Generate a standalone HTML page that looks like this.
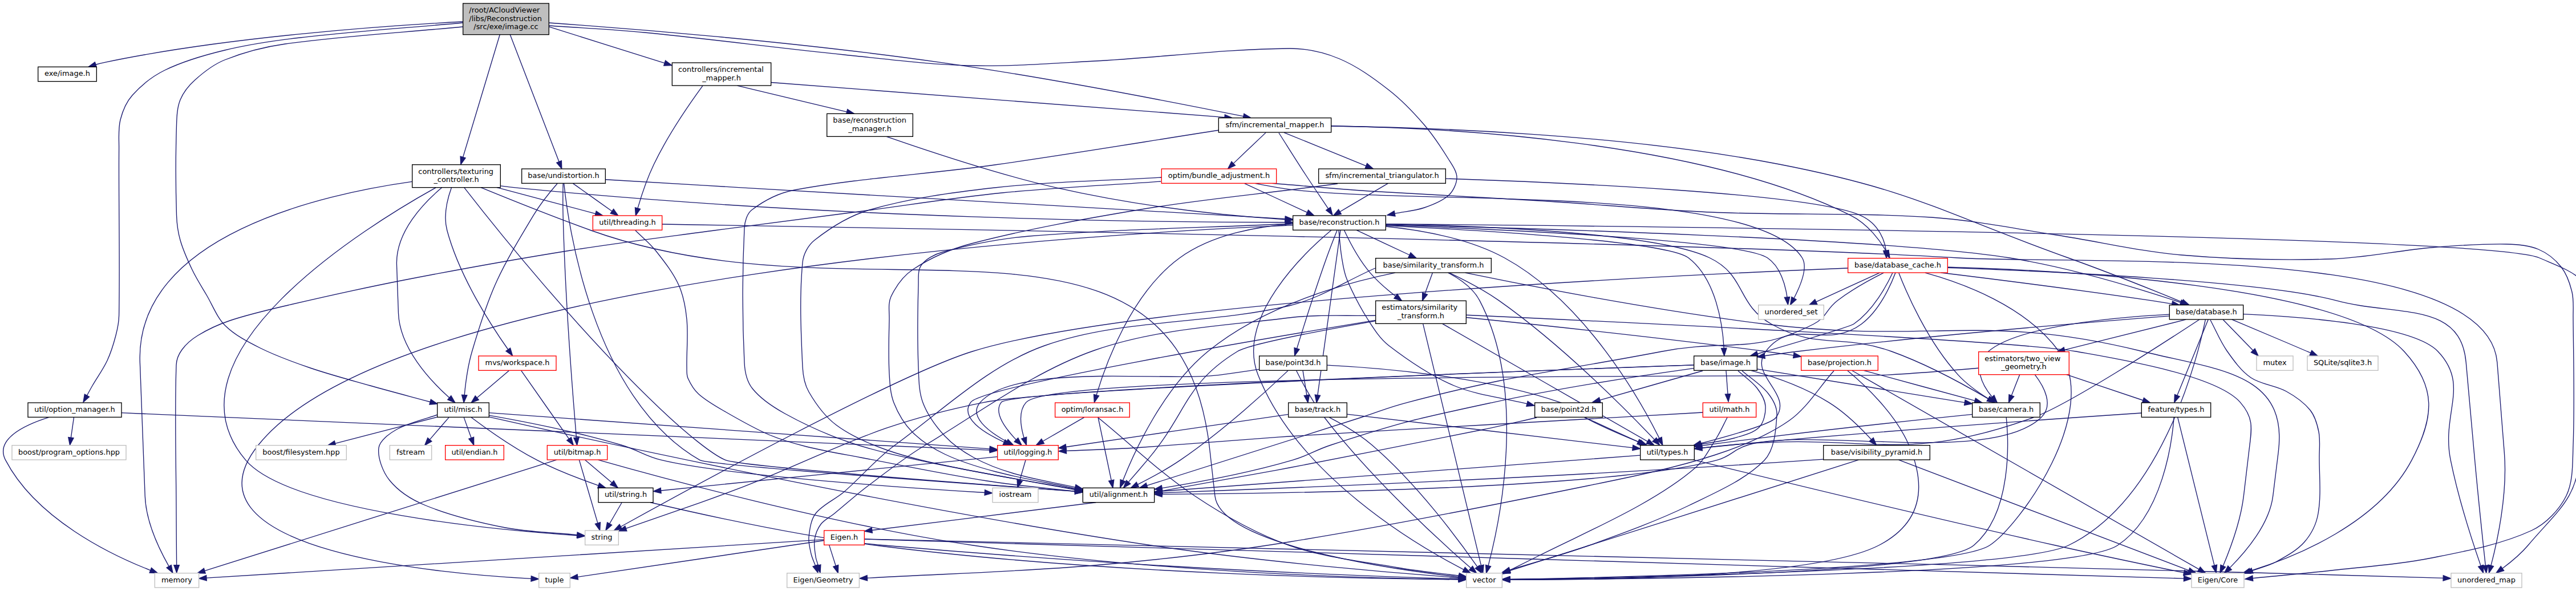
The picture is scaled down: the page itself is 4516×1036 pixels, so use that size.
<!DOCTYPE html>
<html><head><meta charset="utf-8"><title>image.cc include graph</title>
<style>html,body{margin:0;padding:0;background:#fff}svg{display:block}text{font-family:"DejaVu Sans","Liberation Sans",sans-serif;font-size:9.7px;fill:#000}.e{fill:none;stroke:#191970;stroke-width:1}.a{fill:#191970;stroke:#191970;stroke-width:1}</style></head><body>
<svg width="4516" height="1036" viewBox="0 0 3387 777">
<rect x="0" y="0" width="3387" height="777" fill="#fff"/>
<g><path class="e" d="M608.67,28.51C510.23,33.71 299.17,48.15 137.78,82 133.33,82.93 128.82,84.11 125.89,84.94"/>
<polygon class="a" points="124.84,81.6 116.35,87.94 126.94,88.28"/>
<path class="e" d="M721.5,33.75C763.5,36.75 805.6,38.62 847.5,42.75 935.1,51.37 1022.42,63.09 1110,72 1164.92,77.59 1219.92,84.87 1275,86.25 1329.67,87.62 1384.55,83.18 1439.25,80.25 1524.55,75.68 1610.07,64.54 1695,63.75 1717.32,63.54 1740.61,68.75 1761,77.25 1784.36,87 1806.06,102.78 1826.25,118.5 1843.31,131.78 1858.62,147.84 1872.75,164.25 1884.87,178.34 1895.21,194.2 1905,210 1909.46,217.2 1915.5,225.5 1915.5,233.25 1915.5,241 1910.89,251.02 1905,256.5 1896.64,264.27 1884.07,269.14 1872.75,273 1860.34,277.23 1846.79,278.19 1833.81,280.79"/>
<polygon class="a" points="1833.12,277.36 1824,282.75 1834.49,284.22"/>
<path class="e" d="M657.19,45.61C645.82,83.39 620.92,166.15 608.71,206.71"/>
<polygon class="a" points="605.36,205.71 605.83,216.29 612.06,207.72"/>
<path class="e" d="M608.25,35.25C530.5,42.75 452.17,47.02 375,57.75 347.92,61.52 320.63,68.73 295.5,78.75 281.13,84.48 268,94.68 256.5,105 248.5,112.18 241.02,121.47 237,131.25 232.9,141.22 232.48,153.16 232.12,164.25 230.86,203.66 230.86,243.34 232.12,282.75 232.48,293.84 233.96,305.13 237,315.75 240.83,329.13 246.7,342.13 252.75,354.75 258.2,366.13 265.06,376.86 271.5,387.75 279.56,401.36 285.29,417.41 296.25,428.25 308.79,440.66 325.86,449.48 342,457.5 363.11,467.98 385.62,476.1 408,483.75 433.87,492.6 460.42,499.54 486.75,507 512.95,514.42 539.32,521.26 565.6,528.38"/>
<polygon class="a" points="564.68,531.76 575.25,531 566.51,525"/>
<path class="e" d="M670.71,45.61C685.92,85.1 720.04,173.7 735.02,212.63"/>
<polygon class="a" points="731.76,213.88 738.61,221.96 738.29,211.37"/>
<path class="e" d="M721.8,35.14C761.75,47.71 833.75,70.33 873.87,82.94"/>
<polygon class="a" points="872.82,86.28 883.41,85.94 874.92,79.6"/>
<path class="e" d="M721.77,30.03C824.67,37.26 1040.23,54.29 1236.41,82 1373.38,101.35 1545.41,134.89 1634.96,152.96"/>
<polygon class="a" points="1634.26,156.39 1644.76,154.94 1635.65,149.53"/>
<path class="e" d="M608.25,30C537,36.5 465.53,41.32 394.5,49.5 361.28,53.32 327.93,58.2 295.5,66 268.68,72.45 241.29,80.28 216.75,92.25 200.79,100.03 185.71,112.18 174,125.25 166.21,133.93 161.11,146.14 158.25,157.5 155.26,169.39 156.54,182.49 156.45,195 155.94,268.24 157.7,341.6 156.45,414.75 156.3,423.6 154.48,432.46 152.25,441 149.33,452.21 145.88,463.52 141,474 135.63,485.52 127.91,495.95 121.5,507 119.02,511.28 116.72,515.66 114.33,519.99"/>
<polygon class="a" points="111.27,518.3 109.5,528.75 117.4,521.68"/>
<path class="e" d="M1822.13,296.01C1959.92,300.99 2288.74,315.25 2323.92,339 2341.15,350.63 2347.52,374.97 2349.77,390.69"/>
<polygon class="a" points="2346.29,391.07 2350.86,400.63 2353.25,390.31"/>
<path class="e" d="M1822.27,294.51C2104.59,297 3269.78,309.07 3338.73,339 3379.01,356.49 3409.86,364.4 3406.54,409.5 3406.54,409.5 3406.54,409.5 3392.82,596 3388.4,656.03 3364.15,669.54 3323.91,717 3314.28,728.36 3301.48,738.98 3290.2,747.35"/>
<polygon class="a" points="3288.16,744.51 3282.07,753.18 3292.24,750.2"/>
<path class="e" d="M1750.62,302.5C1718.17,329.62 1624.1,416.74 1654.14,493 1706.01,624.67 1861.89,716.41 1924.65,748.96"/>
<polygon class="a" points="1923.06,752.08 1933.56,753.5 1926.24,745.84"/>
<path class="e" d="M1699.81,296.19C1450.69,306.52 520.74,359.87 339.74,585 226.64,725.66 588.33,755.11 698.35,760.77"/>
<polygon class="a" points="698.19,764.26 708.34,761.24 698.52,757.27"/>
<path class="e" d="M1822.12,294.67C1936.26,296.72 2176.89,305.06 2247.91,339 2296.37,362.16 2282.5,399.63 2328.96,426 2389.85,460.57 2420.14,437.93 2487.02,462 2534.78,479.2 2586.02,507.68 2614.19,524.34"/>
<polygon class="a" points="2612.4,527.35 2622.78,529.47 2615.99,521.34"/>
<path class="e" d="M1822.44,297.73C1868.55,302.56 1931.76,313.62 1978.13,339 2085.81,397.93 2158.78,530.13 2181.74,576.28"/>
<polygon class="a" points="2178.59,577.82 2186.12,585.27 2184.88,574.75"/>
<path class="e" d="M1700.25,294C1584.5,299.5 1468.3,301.13 1353,310.5 1314.55,313.63 1275.86,321.55 1239,331.5 1228.61,334.3 1217.05,340.75 1211.25,348.75 1206.55,355.25 1207.75,366.18 1207.5,375 1206.5,410.68 1206.12,446.59 1207.5,482.25 1208.12,498.09 1208,515.04 1213.5,529.5 1219.5,545.29 1230.39,560.48 1242,573 1252.64,584.48 1266.41,593.95 1280.25,601.5 1296.66,610.45 1314.72,617.22 1332.75,622.5 1359.21,630.25 1386.74,634.55 1413.74,640.57"/>
<polygon class="a" points="1412.98,643.99 1423.5,642.75 1414.5,637.16"/>
<path class="e" d="M1822.13,295.4C1994.7,299.62 2482.93,313.52 2642.07,339 2723.84,352.09 2817.51,381.15 2867.2,397.7"/>
<polygon class="a" points="2866.09,401.02 2876.68,400.88 2868.31,394.38"/>
<path class="e" d="M1822.28,296.69C1940.24,302.37 2191.18,316.93 2220.03,339 2256.75,367.1 2264.94,427.53 2266.69,457.84"/>
<polygon class="a" points="2263.2,457.98 2267.09,467.83 2270.19,457.7"/>
<path class="e" d="M1760.25,303C1761.5,314.5 1762.12,326.11 1764,337.5 1765.62,347.36 1766.92,357.58 1770.75,366.75 1778.42,385.08 1787.85,403.16 1798.5,420 1806.35,432.41 1814.69,445.62 1826.25,454.5 1852.44,474.62 1881.28,494.19 1911.75,507 1941.8,519.64 1975.78,522.89 2007.79,530.84"/>
<polygon class="a" points="2006.95,534.24 2017.5,533.25 2008.64,527.44"/>
<path class="e" d="M1758.16,302.58C1754.52,311.6 1748.73,326.23 1744.19,339 1729.13,381.28 1713.38,431.45 1705.15,458.21"/>
<polygon class="a" points="1701.8,457.18 1702.22,467.77 1708.5,459.23"/>
<path class="e" d="M1762.46,302.68C1757.58,337.89 1739.22,470.44 1732.43,519.52"/>
<polygon class="a" points="1728.96,519.03 1731.05,529.42 1735.9,520"/>
<path class="e" d="M1783.5,302.56C1802.64,311.52 1832.89,325.69 1853.29,335.25"/>
<polygon class="a" points="1851.81,338.42 1862.35,339.48 1854.77,332.08"/>
<path class="e" d="M1767.36,302.66C1773.48,315.79 1786.3,341.08 1801.75,359 1811.61,370.44 1824.4,381.31 1835.07,389.44"/>
<polygon class="a" points="1832.99,392.25 1843.11,395.39 1837.16,386.62"/>
<path class="e" d="M1699.93,294.36C1654.85,297.45 1594.13,307.81 1551.19,339 1487.26,385.44 1453.54,479.38 1441.55,519.48"/>
<polygon class="a" points="1438.19,518.51 1438.79,529.09 1444.91,520.44"/>
<path class="e" d="M2637.93,548.88C2640.87,578.49 2646.02,674.35 2595.13,717 2550.03,754.79 2111.58,760.86 1985.13,761.82"/>
<polygon class="a" points="1985.11,758.32 1975.13,761.89 1985.15,765.32"/>
<path class="e" d="M2593.15,544.82C2518.72,552.33 2371.89,567.78 2244.25,585 2242.61,585.22 2240.95,585.45 2237.89,585.89"/>
<polygon class="a" points="2237.38,582.43 2227.99,587.33 2238.39,589.35"/>
<path class="e" d="M2226.74,604.52C2309.04,624.71 2523.06,676.82 2702.56,717 2760.75,730.03 2828.09,744.04 2871.46,752.94"/>
<polygon class="a" points="2870.76,756.36 2881.26,754.94 2872.16,749.51"/>
<path class="e" d="M2156.55,598.62C2040.94,607.3 1670.26,635.11 1528.15,645.77"/>
<polygon class="a" points="1527.89,642.28 1518.18,646.51 1528.41,649.26"/>
<path class="e" d="M1440.96,660.56C1364.69,670.03 1241.68,685.31 1146.53,697.13"/>
<polygon class="a" points="1146.1,693.65 1136.61,698.36 1146.97,700.6"/>
<path class="e" d="M1136.5,708.87C1344.77,715.08 2604.19,752.6 2871.4,760.57"/>
<polygon class="a" points="2871.3,764.06 2881.4,760.86 2871.51,757.07"/>
<path class="e" d="M1136.56,708.65C1308.67,712.51 2214.1,732.97 2965.51,753 3049.74,755.25 3148.11,758.15 3212.37,760.08"/>
<polygon class="a" points="3212.27,763.58 3222.37,760.39 3212.48,756.58"/>
<path class="e" d="M1136.8,714.44C1146.03,715.42 1155.06,716.32 1162.81,717 1511.78,747.63 1812.57,758.12 1917.72,761.08"/>
<polygon class="a" points="1917.63,764.58 1927.72,761.35 1917.82,757.58"/>
<path class="e" d="M1083.15,710.64C1022.01,719.68 821.35,749.36 759.58,758.51"/>
<polygon class="a" points="759.07,755.04 749.69,759.96 760.09,761.97"/>
<path class="e" d="M1090.19,716.56C1093,725.4 1097.44,739.31 1098.92,743.95"/>
<polygon class="a" points="1095.58,745.02 1101.96,753.48 1102.25,742.89"/>
<path class="e" d="M1083.36,709.36C965.88,716.68 409.79,751.29 271.48,759.89"/>
<polygon class="a" points="271.26,756.4 261.5,760.52 271.7,763.38"/>
<path class="e" d="M2906.25,420.75C2913.5,434.25 2919.25,448.8 2928,461.25 2937,474.05 2946.85,487.86 2959.5,496.5 2972.85,505.61 2991.58,506.6 3006,514.5 3017.58,520.85 3029.43,529.19 3037.5,539.25 3043.68,546.94 3046.8,557.89 3048.75,567.75 3050.8,578.14 3049.58,589.25 3049.5,600 3049.33,625 3052.18,650.88 3048,675 3045.68,688.38 3038.81,702.38 3030,712.5 3020.31,723.63 3005.76,731.45 2992.5,738.75 2982.89,744.04 2971.75,746.43 2961.38,750.28"/>
<polygon class="a" points="2960.16,746.99 2952,753.75 2962.59,753.56"/>
<path class="e" d="M2949.55,412.99C3026.72,416.38 3172.36,427.33 3205.42,462 3247.94,506.59 3209.51,542.82 3222.14,605 3232.64,656.73 3251.93,715.38 3261.82,743.89"/>
<polygon class="a" points="3258.52,745.05 3265.13,753.33 3265.13,742.74"/>
<path class="e" d="M2899.78,420.03C2891.08,462.98 2845.52,656.03 2719.66,717 2651.91,749.81 2125.27,759.54 1985.34,761.56"/>
<polygon class="a" points="1985.29,758.06 1975.34,761.7 1985.39,765.06"/>
<path class="e" d="M2852.26,413.37C2780.8,417.2 2652.81,428.64 2614.4,462 2592.15,481.31 2606.8,507.02 2619.33,522.02"/>
<polygon class="a" points="2616.73,524.35 2626.01,529.46 2621.94,519.68"/>
<path class="e" d="M2891.69,420.15C2849.59,447.88 2717.64,533.66 2673.07,549 2497.98,612.62 2453.65,567.86 2277.44,585 2264.73,586.24 2250.97,587.63 2237.73,589"/>
<polygon class="a" points="2237.36,585.52 2227.78,590.04 2238.09,592.48"/>
<path class="e" d="M2922.91,420.13C2933.86,431.43 2953.14,451.3 2962.31,460.75"/>
<polygon class="a" points="2959.8,463.18 2969.26,467.94 2964.83,458.32"/>
<path class="e" d="M2934.64,420.04C2958.43,430.05 2998.96,447.17 3033.56,462 3036.16,463.11 3038.84,464.28 3038.21,463.99"/>
<polygon class="a" points="3036.81,467.2 3047.38,467.97 3039.6,460.78"/>
<path class="e" d="M2852.49,415.37C2757.24,422.79 2545.93,440.2 2363.77,462 2350.13,463.63 2335.3,465.65 2320.24,467.82"/>
<polygon class="a" points="2319.73,464.35 2310.34,469.26 2320.74,471.28"/>
<path class="e" d="M2874.04,420.13C2834.21,430.1 2767.71,446.73 2714.51,460.05"/>
<polygon class="a" points="2713.66,456.65 2704.81,462.47 2715.36,463.44"/>
<path class="e" d="M2903.4,420.19C2895.06,440.6 2874.09,491.9 2862.6,519.98"/>
<polygon class="a" points="2859.36,518.66 2858.82,529.24 2865.84,521.31"/>
<path class="e" d="M2290.5,487.5C2302,497.5 2315.87,505.82 2325,517.5 2331.12,525.32 2336.83,536.27 2336.25,546 2335.08,565.52 2333.14,591.52 2319.75,605.25 2294.64,631.02 2255.24,647.76 2220.75,664.5 2178.49,685.01 2133.8,701.06 2089.5,717 2055.24,729.33 2019.87,738.53 1985.05,749.3"/>
<polygon class="a" points="1984.02,745.95 1975.5,752.25 1986.09,752.64"/>
<path class="e" d="M2310.36,485.21C2377.23,495.99 2508.64,517.18 2583.26,529.22"/>
<polygon class="a" points="2582.7,532.67 2593.13,530.81 2583.82,525.76"/>
<path class="e" d="M2285.25,487.5C2293.5,495 2303.31,501.35 2310,510 2315.31,516.85 2320.77,525.76 2321.25,534 2321.77,543.01 2319.13,555.5 2313,561.75 2305.38,569.5 2291.43,572.68 2280,576 2265.96,580.08 2251.06,581.3 2236.59,583.95"/>
<polygon class="a" points="2235.96,580.51 2226.75,585.75 2237.22,587.39"/>
<path class="e" d="M2226.9,484.23C2167.65,492.48 2057.17,508.94 1963.27,529 1868.09,549.33 1843.94,554.33 1750.17,585 1727.23,592.5 1722.36,598.24 1699.28,605 1641.53,621.92 1574.75,634.21 1527.84,641.68"/>
<polygon class="a" points="1527.3,638.22 1517.96,643.22 1528.38,645.14"/>
<path class="e" d="M2227.07,479.94C2052.6,486.04 1387.17,510.34 1293.81,529 1122.83,563.17 1086.39,602.8 920.22,661 887.27,672.54 849.57,685.62 823.02,694.81"/>
<polygon class="a" points="821.88,691.5 813.57,698.07 824.16,698.12"/>
<path class="e" d="M2269.5,487.5C2270.25,497.68 2271.01,507.85 2271.76,518.03"/>
<polygon class="a" points="2268.27,518.29 2272.5,528 2275.25,517.77"/>
<path class="e" d="M2226.95,479.92C2045.32,486.21 1329.16,512.05 1316.42,529 1306.42,542.3 1321.35,562.79 1336.14,578.25"/>
<polygon class="a" points="1333.68,580.74 1343.25,585.28 1338.6,575.76"/>
<path class="e" d="M2238.75,487.5C2193.71,500.34 2148.66,513.17 2103.62,526.01"/>
<polygon class="a" points="2102.66,522.64 2094,528.75 2104.58,529.38"/>
<path class="e" d="M2301.97,487.07C2330.52,494.57 2369.87,507.67 2404.48,529 2425.67,542.06 2445.24,561.21 2460.51,577.91"/>
<polygon class="a" points="2457.89,580.23 2467.14,585.39 2463.13,575.58"/>
<path class="e" d="M2271,549C2266.25,558 2262.2,567.43 2256.75,576 2248.2,589.43 2240.84,604.65 2229,615 2207.09,634.15 2181.2,650.06 2155.5,664.5 2112.7,688.56 2067.5,708.5 2023.5,730.5 2010.48,737.01 1997.46,743.52 1984.44,750.03"/>
<polygon class="a" points="1982.88,746.9 1975.5,754.5 1986.01,753.16"/>
<path class="e" d="M2238.75,542.25C2142.5,547.75 2046.25,553.17 1950,558.75 1865,563.67 1779.96,568.18 1695,573.75 1627.46,578.18 1560.04,584.36 1492.5,588.75 1462.37,590.71 1432.16,591.45 1401.99,592.8"/>
<polygon class="a" points="1401.83,589.31 1392,593.25 1402.15,596.3"/>
<path class="e" d="M1348.52,604.92C1346.41,612.15 1343.36,622.59 1340.72,631.65"/>
<polygon class="a" points="1337.36,630.67 1337.91,641.25 1344.08,632.63"/>
<path class="e" d="M1311.4,600.42C1212.87,610.35 974.45,634.37 868.97,645"/>
<polygon class="a" points="868.62,641.52 859.02,646 869.32,648.49"/>
<path class="e" d="M855.18,660.56C916.35,674.88 1044.89,703.45 1151.32,717 1454.39,755.58 1808.9,761.11 1917.99,761.88"/>
<polygon class="a" points="1917.97,765.38 1927.99,761.94 1918.01,758.38"/>
<path class="e" d="M817.46,660.92C813.14,668.39 806.83,679.28 801.44,688.6"/>
<polygon class="a" points="798.41,686.84 796.43,697.25 804.47,690.35"/>
<path class="e" d="M2084.25,549C2107.47,559.61 2130.69,570.23 2153.91,580.84"/>
<polygon class="a" points="2152.45,584.03 2163,585 2155.36,577.66"/>
<path class="e" d="M2020.5,549C1997,554.25 1973.6,559.97 1950,564.75 1865.1,581.97 1780.09,598.73 1695,615 1639.37,625.63 1583.56,635.3 1527.84,645.46"/>
<polygon class="a" points="1527.21,642.01 1518,647.25 1528.47,648.9"/>
<path class="e" d="M2496.42,604.58C2569.1,632.26 2797.53,719.29 2877.9,749.91"/>
<polygon class="a" points="2876.65,753.18 2887.24,753.48 2879.15,746.64"/>
<path class="e" d="M2443.73,604.58C2357.12,632.1 2086,718.24 1984.65,750.45"/>
<polygon class="a" points="1983.59,747.11 1975.12,753.48 1985.71,753.79"/>
<path class="e" d="M2397.4,603.78C2391.7,604.22 2386.12,604.63 2380.76,605 2046.29,627.97 1674.18,642.59 1527.99,647.88"/>
<polygon class="a" points="1527.87,644.38 1518,648.24 1528.12,651.37"/>
<path class="e" d="M2655.55,492.6C2652.32,500.8 2648.22,511.22 2644.75,520.04"/>
<polygon class="a" points="2641.5,518.75 2641.09,529.34 2648.01,521.32"/>
<path class="e" d="M2675.59,492.71C2687.39,508.11 2700.93,532.68 2683.67,549 2617.31,611.74 2383.22,560.79 2298.35,585 2279.24,590.45 2276.53,599.89 2257.39,605 2115.82,642.79 1684.62,648.88 1527.85,649.83"/>
<polygon class="a" points="1527.83,646.33 1517.85,649.89 1527.87,653.33"/>
<path class="e" d="M2601.29,483.95C2566.17,487.03 2520.58,490.72 2479.83,493 2417.38,496.5 1387.59,486.7 1349.12,529 1338.84,540.29 1341.86,560.3 1346.43,575.78"/>
<polygon class="a" points="1343.11,576.89 1349.61,585.26 1349.75,574.67"/>
<path class="e" d="M2717.1,492.53C2748.47,503.06 2790.85,517.28 2817.74,526.31"/>
<polygon class="a" points="2816.63,529.63 2827.22,529.49 2818.85,522.99"/>
<path class="e" d="M2863.28,548.7C2871.39,581.44 2900.17,697.62 2911.51,743.41"/>
<polygon class="a" points="2908.11,744.26 2913.92,753.12 2914.91,742.57"/>
<path class="e" d="M2858.35,548.73C2856.07,578.7 2844.07,677.66 2784.22,717 2723.45,756.94 2134.56,761.44 1985.26,761.94"/>
<polygon class="a" points="1985.25,758.44 1975.26,761.97 1985.27,765.44"/>
<path class="e" d="M2815.54,543.01C2716.84,549.63 2476.26,566.36 2275.15,585 2262.99,586.13 2249.85,587.49 2237.7,588.81"/>
<polygon class="a" points="2237.32,585.33 2227.76,589.9 2238.08,592.29"/>
<path class="e" d="M1704.4,487.18C1711.24,500.93 1725.64,528.28 1741.54,549 1804.11,630.59 1895.53,713.4 1933.89,746.87"/>
<polygon class="a" points="1931.6,749.52 1941.45,753.42 1936.18,744.23"/>
<path class="e" d="M1744.97,480.14C1814.59,483.71 1952.62,494.88 2051.27,529 2068.35,534.91 2068.34,541.05 2083.63,549 2107.47,561.39 2136.23,573.64 2156.21,581.72"/>
<polygon class="a" points="2154.91,584.97 2165.49,585.44 2157.51,578.47"/>
<path class="e" d="M1693.6,487.21C1670.9,508.82 1609.15,565.99 1551.79,605 1534.16,616.99 1513.32,628.23 1495.76,637.03"/>
<polygon class="a" points="1494.21,633.89 1486.79,641.45 1497.31,640.17"/>
<path class="e" d="M1655.38,485.54C1639.02,488.02 1620.37,490.75 1603.34,493 1533.6,502.21 1335.15,476.43 1288.79,529 1272.7,547.29 1300.04,567.61 1323.74,580.69"/>
<polygon class="a" points="1322.11,583.79 1332.59,585.34 1325.36,577.59"/>
<path class="e" d="M1713,487.02C1714.51,496.57 1717.01,512.19 1718.19,519.62"/>
<polygon class="a" points="1714.73,520.17 1719.77,529.49 1721.64,519.06"/>
<path class="e" d="M1747.43,548.51C1763.02,556.62 1786.09,569.83 1803.83,585 1863.17,635.79 1918,710.08 1942.52,745.23"/>
<polygon class="a" points="1939.64,747.21 1948.2,753.46 1945.41,743.24"/>
<path class="e" d="M1771.23,544.56C1855.78,554.49 2056.26,578.03 2146.71,588.64"/>
<polygon class="a" points="2146.3,592.12 2156.64,589.81 2147.12,585.17"/>
<path class="e" d="M1693.92,544.74C1627.23,554.52 1474.51,576.91 1401.61,587.6"/>
<polygon class="a" points="1401.11,584.14 1391.72,589.05 1402.12,591.06"/>
<path class="e" d="M1926.48,358.55C2002.98,374.3 2173.78,407.95 2320.42,426 2538.72,452.86 2606.31,409.96 2816.98,462 2915.74,486.4 3008.6,489.34 2995.69,594 2995.69,594 2995.69,594 2988.53,652 2983.94,689.12 2952.78,725.62 2931.79,746.53"/>
<polygon class="a" points="2929.36,744.01 2924.59,753.47 2934.22,749.05"/>
<path class="e" d="M1903.98,358.55C1918.21,365.97 1936.53,378.17 1945.37,395 2008.47,515.09 1971.62,687.16 1956.8,743.7"/>
<polygon class="a" points="1953.43,742.78 1954.18,753.35 1960.18,744.62"/>
<path class="e" d="M1905.53,358.52C1923.15,366.84 1949.77,380.34 1970.62,395 2055.74,454.84 2142.43,543.18 2175.36,577.97"/>
<polygon class="a" points="2172.81,580.37 2182.21,585.25 2177.9,575.57"/>
<path class="e" d="M1834.43,358.54C1771.18,371.31 1663.01,400.76 1588.21,462 1529.5,510.05 1491.44,593.86 1476.35,631.83"/>
<polygon class="a" points="1473.09,630.57 1472.76,641.16 1479.62,633.09"/>
<path class="e" d="M1808.25,352.5C1770.5,369 1734.86,392.65 1695,402 1589.86,426.65 1473.44,419.03 1373.25,454.5 1300.44,480.28 1239.65,539.33 1176,585.75 1151.9,603.33 1132.62,626.99 1110,646.5 1098.12,656.74 1081.72,663.25 1072.5,675 1066.22,683 1064.67,695.36 1063.5,705.75 1062.67,713.11 1064.84,720.91 1066.5,728.25 1067.7,733.53 1070.22,738.48 1072.08,743.6"/>
<polygon class="a" points="1068.79,744.8 1075.5,753 1075.37,742.41"/>
<path class="e" d="M1883.6,358.52C1881.05,365.53 1877.3,375.81 1873.56,386.08"/>
<polygon class="a" points="1870.27,384.89 1870.13,395.48 1876.84,387.28"/>
<path class="e" d="M1928.01,414.17C2110.06,422.48 2652.33,448.1 2729.57,462 2779.66,471.02 2913.36,492.15 2945.62,529 2964.3,550.35 2960.48,563.9 2956.91,594 2956.91,594 2956.91,594 2950.02,652 2946.14,684.67 2932.29,721.76 2922.93,744.1"/>
<polygon class="a" points="2919.71,742.71 2918.96,753.28 2926.14,745.49"/>
<path class="e" d="M1871,425.67C1884.26,480.77 1932.36,680.74 1947.45,743.5"/>
<polygon class="a" points="1944.05,744.32 1949.79,753.22 1950.85,742.68"/>
<path class="e" d="M1896.36,425.52C1956.11,459.81 2109,547.53 2166.3,580.41"/>
<polygon class="a" points="2164.55,583.44 2174.97,585.38 2168.04,577.37"/>
<path class="e" d="M1808.67,421.9C1742.16,433.62 1642.94,452.29 1627.04,462 1556.85,504.87 1561.81,541.95 1508.48,605 1500.55,614.37 1491.59,624.75 1483.69,633.87"/>
<polygon class="a" points="1481.05,631.58 1477.13,641.42 1486.33,636.17"/>
<path class="e" d="M1809,414.75C1771,415.75 1732.65,413.09 1695,417.75 1609.4,428.34 1519.6,432.33 1439.25,460.5 1359.85,488.33 1288.93,541.92 1215.75,585.75 1189.18,601.67 1164.76,621.11 1140,639.75 1125.26,650.86 1111.57,663.33 1097.25,675 1091.32,679.83 1083.73,683.36 1079.25,689.25 1074.98,694.86 1072.11,702.48 1071,709.5 1069.86,716.73 1071.46,724.59 1072.5,732 1073.05,735.89 1074.67,739.59 1075.75,743.38"/>
<polygon class="a" points="1072.39,744.35 1078.5,753 1079.12,742.42"/>
<path class="e" d="M1808.69,421.03C1662.31,445.09 1291.61,507.86 1276.27,529 1261.75,549 1293.09,568.74 1320.23,581.3"/>
<polygon class="a" points="1318.82,584.5 1329.38,585.34 1321.65,578.09"/>
<path class="e" d="M1927.85,417.38C2014.4,426.15 2180.65,443.62 2321.33,462 2333.26,463.56 2345.97,465.36 2358.29,467.18"/>
<polygon class="a" points="2357.77,470.65 2368.18,468.66 2358.81,463.72"/>
<path class="e" d="M2434.99,487.14C2505.8,527.69 2805.35,699.28 2891.2,748.46"/>
<polygon class="a" points="2889.46,751.5 2899.88,753.43 2892.94,745.42"/>
<path class="e" d="M2429.02,487.16C2449.09,503.8 2491.52,542.42 2509.77,585 2535.04,643.94 2524.2,689 2470.25,717 2387.3,760.05 2087.17,762.68 1985.17,762.3"/>
<polygon class="a" points="1985.19,758.8 1975.17,762.24 1985.15,765.8"/>
<path class="e" d="M2450.27,487.02C2488.73,497.5 2554.1,515.29 2596.63,526.86"/>
<polygon class="a" points="2595.71,530.24 2606.28,529.49 2597.55,523.49"/>
<path class="e" d="M2411.25,487.5C2391.75,509.25 2376.14,536.27 2352.75,552.75 2323.64,573.27 2288.17,587.32 2253.75,598.5 2200.42,615.82 2144.68,626.99 2089.5,638.25 1958.43,664.99 1827.03,691.18 1695,712.5 1610.28,726.18 1524.76,735.94 1439.25,743.25 1339.84,751.75 1239.91,754.38 1140.23,759.94"/>
<polygon class="a" points="1140.04,756.45 1130.25,760.5 1140.43,763.44"/>
<path class="e" d="M1443.75,549C1486,583.25 1525.51,621.67 1570.5,651.75 1609.26,677.67 1651.26,701.52 1695,717 1740.26,733.02 1789.79,737.72 1837.5,746.25 1864.24,751.03 1891.39,753.38 1918.34,756.94"/>
<polygon class="a" points="1917.88,760.41 1928.25,758.25 1918.8,753.47"/>
<path class="e" d="M1443.78,548.63C1447.62,566.95 1456.64,609.95 1461.2,631.62"/>
<polygon class="a" points="1457.77,632.34 1463.25,641.41 1464.62,630.9"/>
<path class="e" d="M1425.48,548.68C1411.56,556.74 1390.51,568.92 1371.11,580.16"/>
<polygon class="a" points="1369.36,577.13 1362.46,585.17 1372.87,583.19"/>
<path class="e" d="M658.3,244.38C666.04,245.39 673.68,246.3 680.77,247 1091.98,287.79 1523.68,292.26 1689.83,292.31"/>
<polygon class="a" points="1689.83,295.81 1699.83,292.3 1689.83,288.81"/>
<path class="e" d="M632.21,246.52C668.05,261.22 726.41,284.7 777.33,303 1138.77,432.94 1552,223.58 1590.94,594 1590.94,594 1590.94,594 1597.44,652 1604.65,716.36 1830.54,748.44 1918.05,758.49"/>
<polygon class="a" points="1917.66,761.96 1927.99,759.6 1918.44,755.01"/>
<path class="e" d="M610.39,246.64C646.25,292.79 764.98,442.21 880.39,549 895.53,563.01 935.19,597.59 954.32,605 975.64,613.26 1283.55,636.41 1413.77,645.89"/>
<polygon class="a" points="1413.51,649.38 1423.74,646.62 1414.02,642.4"/>
<path class="e" d="M541.79,238.82C426.01,255.03 177.67,309.32 184.01,476.5 184.01,476.5 184.01,476.5 190.66,652 191.96,686.19 209.96,723.24 222.13,744.62"/>
<polygon class="a" points="219.11,746.4 227.21,753.23 225.14,742.84"/>
<path class="e" d="M573,246.65C483.81,296.23 205.75,466.63 323.06,605 380.62,672.91 662.85,697.56 759.12,704.07"/>
<polygon class="a" points="758.89,707.57 769.1,704.72 759.35,700.58"/>
<path class="e" d="M593.63,246.61C588.49,260.89 582.61,283.57 587.85,303 604.43,364.54 646.51,429.1 668.08,459.56"/>
<polygon class="a" points="665.24,461.61 673.92,467.68 670.92,457.52"/>
<path class="e" d="M580.98,246.61C557.45,266.36 520.05,304.72 521.59,348 521.59,348 521.59,348 523.83,411.5 525.46,457.69 565.75,500.52 590.83,522.89"/>
<polygon class="a" points="588.55,525.54 598.41,529.41 593.11,520.23"/>
<path class="e" d="M653.27,246.53C692.83,257.01 746.18,271.16 783.02,280.93"/>
<polygon class="a" points="782.13,284.32 792.69,283.49 783.92,277.55"/>
<path class="e" d="M685.28,487.18C698.51,506.08 730.13,551.25 748.16,577.03"/>
<polygon class="a" points="745.3,579.04 753.9,585.22 751.03,575.02"/>
<path class="e" d="M669.64,487.02C658.6,496.39 640.65,511.62 627.2,523.02"/>
<polygon class="a" points="624.94,520.35 619.58,529.49 629.47,525.69"/>
<path class="e" d="M786.45,604.52C866.19,627.15 1092.39,688.96 1279.52,717 1526.85,754.07 1819.76,760.6 1917.92,761.75"/>
<polygon class="a" points="1917.88,765.25 1927.92,761.86 1917.96,758.25"/>
<path class="e" d="M731.77,604.58C644.14,632.21 369.07,718.94 269.1,750.47"/>
<polygon class="a" points="268.04,747.13 259.56,753.48 270.15,753.8"/>
<path class="e" d="M761.51,604.63C766.74,622.46 778.85,663.7 785.93,687.82"/>
<polygon class="a" points="782.57,688.8 788.75,697.41 789.29,686.83"/>
<path class="e" d="M769.28,604.68C778.77,612.74 793.14,624.92 804.66,634.7"/>
<polygon class="a" points="802.39,637.37 812.28,641.17 806.92,632.03"/>
<path class="e" d="M643.06,548.19C765.18,575.81 1175.69,666.58 1513.8,717 1664.58,739.48 1843.25,754.05 1917.76,759.58"/>
<polygon class="a" points="1917.5,763.07 1927.73,760.31 1918.01,756.09"/>
<path class="e" d="M575.25,545.25C557.25,551.75 537.53,555.58 521.25,564.75 511.78,570.08 499.28,579.28 498,588.75 496.28,601.53 503.25,620.42 512.25,631.5 523.75,645.67 541.95,657.32 559.5,664.5 592.7,678.07 628.97,686.84 664.5,693.75 695.4,699.76 727.37,700.08 758.8,703.25"/>
<polygon class="a" points="758.45,706.73 768.75,704.25 759.15,699.77"/>
<path class="e" d="M643.46,542.68C765.74,551.5 1156.44,579.7 1301.32,590.16"/>
<polygon class="a" points="1301.06,593.65 1311.29,590.88 1301.57,586.67"/>
<path class="e" d="M643.01,546.04C684.77,553.31 755.01,566.85 816.68,585 840.34,591.96 846.85,599.4 870.27,605 955.78,625.45 1197.13,641.69 1294.77,647.62"/>
<polygon class="a" points="1294.56,651.11 1304.75,648.22 1294.98,644.13"/>
<path class="e" d="M619.5,548.68C637.3,562.05 673.24,587.94 706.31,605 732.3,618.42 763.01,630.06 786.91,638.29"/>
<polygon class="a" points="785.79,641.6 796.38,641.49 788.03,634.97"/>
<path class="e" d="M590.46,548.56C582.81,557.36 570.84,571.19 565.01,577.93"/>
<polygon class="a" points="562.37,575.64 558.45,585.48 567.65,580.23"/>
<path class="e" d="M609.99,548.92C612.55,556.07 616.25,566.36 619.65,575.84"/>
<polygon class="a" points="616.35,577.02 623.02,585.25 622.94,574.66"/>
<path class="e" d="M574.8,548.32C538.66,557.66 479.89,572.85 440.65,582.99"/>
<polygon class="a" points="439.78,579.6 430.97,585.49 441.53,586.38"/>
<path class="e" d="M870.68,294.74C1110.72,298.7 2227,317.96 2573.5,339 2732.27,348.64 3270.85,318.19 3283.37,476.5 3283.37,476.5 3283.37,476.5 3292.82,596 3297.14,650.63 3283.22,713.12 3275.21,743.51"/>
<polygon class="a" points="3271.84,742.58 3272.57,753.15 3278.59,744.43"/>
<path class="e" d="M835.5,303C844.5,312 854.64,320.07 862.5,330 873.64,344.07 885.22,358.82 892.5,375 898.72,388.82 901.52,404.77 903,420 905.02,440.77 902.59,462.02 903,483 903.09,487.77 902.61,493.01 904.5,497.25 907.86,504.76 912.56,512.71 918.75,518.25 929.06,527.46 941.82,534.47 954,541.5 972.57,552.22 991.35,563.06 1011,571.5 1026.85,578.31 1043.72,583.08 1060.5,587.25 1083.97,593.08 1107.96,596.98 1131.75,601.5 1186.96,611.98 1242.03,623.48 1297.5,632.25 1335.97,638.33 1374.88,641.46 1413.57,646.07"/>
<polygon class="a" points="1413.16,649.54 1423.5,647.25 1413.98,642.59"/>
<path class="e" d="M796.01,236.08C845.47,239.04 917.57,243.33 980.44,247 1240.38,262.16 1548.04,279.66 1689.82,287.69"/>
<polygon class="a" points="1689.62,291.19 1699.8,288.26 1690.02,284.2"/>
<path class="e" d="M741.48,241.01C746.32,288.66 777.07,523.03 920.34,605 931.08,611.15 1274.76,636.11 1413.61,645.97"/>
<polygon class="a" points="1413.37,649.46 1423.59,646.68 1413.86,642.48"/>
<path class="e" d="M740.33,241.07C740.14,251.11 739.93,268.25 740.31,283 743.13,393.69 753.73,526.63 757.86,575.38"/>
<polygon class="a" points="754.37,575.67 758.71,585.34 761.34,575.08"/>
<path class="e" d="M732.77,241.33C724.31,251.05 710.85,267.38 701.45,283 656.51,357.6 645.33,377.96 620.66,462 615.05,481.08 612.12,503.83 610.65,519.41"/>
<polygon class="a" points="607.16,519.13 609.82,529.38 614.13,519.7"/>
<path class="e" d="M753.17,241.02C766.59,250.57 788.54,266.19 804.69,277.69"/>
<polygon class="a" points="802.66,280.54 812.84,283.49 806.72,274.84"/>
<path class="e" d="M924.05,112.64C908.38,134.04 878.85,176.37 859.77,216 850.06,236.16 842.06,261.43 838.47,273.83"/>
<polygon class="a" points="835.1,272.89 835.78,283.46 841.84,274.77"/>
<path class="e" d="M969.36,112.6C1007.45,121.72 1057.54,133.71 1113.44,147.09"/>
<polygon class="a" points="1112.63,150.5 1123.17,149.42 1114.26,143.69"/>
<path class="e" d="M1013.75,108.37C1172.34,120.56 1440.7,141.19 1610.23,154.22"/>
<polygon class="a" points="1609.96,157.71 1620.2,154.99 1610.5,150.73"/>
<path class="e" d="M1165.53,179.56C1219.18,198.15 1316.5,230.47 1389.95,247 1504.89,272.87 1617.49,283.91 1689.81,288.66"/>
<polygon class="a" points="1689.59,292.15 1699.79,289.29 1690.03,285.17"/>
<path class="e" d="M1681.5,174.75C1693,192.75 1704.34,210.85 1716,228.75 1725.99,244.08 1736.3,259.2 1746.45,274.43"/>
<polygon class="a" points="1743.54,276.37 1752,282.75 1749.37,272.49"/>
<path class="e" d="M1603.5,171C1505,186.25 1406.69,202.84 1308,216.75 1220.44,229.09 1131.06,233.74 1044.75,249.75 1024.56,253.49 1004.02,264.18 988.5,276 982.02,280.93 979.16,291.45 978.75,300 975.91,358.45 975.83,418.44 978.75,477 979.33,488.69 982.23,501.95 989.25,510.75 999.98,524.2 1016.35,535.1 1032,543.75 1059.35,558.85 1088.56,571.99 1118.25,582 1152.31,593.49 1187.95,600.85 1223.25,608.25 1286.43,621.49 1350.2,632.02 1413.67,643.91"/>
<polygon class="a" points="1413.03,647.35 1423.5,645.75 1414.32,640.47"/>
<path class="e" d="M1750.34,165.78C1874.93,167.43 2133.15,175.9 2339.67,216 2517.89,250.6 2553.16,279.59 2719.29,339 2773.01,358.21 2834.33,382.86 2869.24,397.17"/>
<polygon class="a" points="2867.91,400.4 2878.49,400.97 2870.57,393.93"/>
<path class="e" d="M1750.41,165.55C1898.73,167.84 2234.78,184.37 2433.07,283 2456.88,294.84 2472.96,317.93 2480.1,330.52"/>
<polygon class="a" points="2477.01,332.17 2484.81,339.34 2483.18,328.87"/>
<path class="e" d="M1664.38,174.27C1653.24,184.89 1634.28,202.95 1621.67,214.97"/>
<polygon class="a" points="1619.25,212.44 1614.43,221.87 1624.08,217.51"/>
<path class="e" d="M1688.25,174.27C1714.39,184.89 1758.86,202.95 1796.16,218.11"/>
<polygon class="a" points="1794.85,221.35 1805.43,221.87 1797.48,214.86"/>
<path class="e" d="M2560.88,351.2C2712.58,355.44 3080.64,374.71 3161.01,462 3204.28,509.01 3200.59,548.82 3170.98,605 3127.35,687.78 3019.06,731.76 2958.54,750.61"/>
<polygon class="a" points="2957.53,747.26 2948.97,753.5 2959.55,753.96"/>
<path class="e" d="M2471.46,358.52C2449.08,368.78 2411.39,386.04 2387.83,396.82"/>
<polygon class="a" points="2386.37,393.64 2378.74,400.99 2389.29,400"/>
<path class="e" d="M2560.76,352.02C2690.43,356.52 2975.05,369.07 3071.11,395 3151.49,416.7 3235.12,395.11 3242.42,476.5 3242.42,476.5 3242.42,476.5 3253.13,596 3257.93,649.41 3264.62,712.49 3267.98,743.42"/>
<polygon class="a" points="3264.5,743.8 3269.07,753.36 3271.46,743.04"/>
<path class="e" d="M2531.13,358.56C2579.74,371.83 2663.84,402.32 2707.2,462 2763.89,540.06 2655.81,691.07 2616.04,717 2565.72,749.81 2112.86,759.44 1985.02,761.52"/>
<polygon class="a" points="1984.96,758.02 1975.02,761.68 1985.07,765.02"/>
<path class="e" d="M2496.61,358.81C2505.79,382.43 2533.73,448.4 2574.76,493 2585.9,505.12 2600.85,515.76 2614.61,524.26"/>
<polygon class="a" points="2612.82,527.27 2623.21,529.36 2616.4,521.25"/>
<path class="e" d="M2492.24,358.51C2486.31,374.27 2471.45,408.04 2447.55,426 2401.08,460.92 2356.57,415.5 2321.71,462 2298.29,493.21 2358.07,517.48 2335.09,549 2329.04,557.29 2275.99,572.51 2236.22,582.95"/>
<polygon class="a" points="2235.34,579.57 2226.54,585.47 2237.1,586.34"/>
<path class="e" d="M2476.77,358.62C2460.25,366.9 2435.49,380.3 2416.12,395 2400.46,406.87 2402.22,416.96 2384.71,426 2305.7,466.75 2273.87,445.18 2185.55,462 2036.52,490.39 1997.35,490.88 1850.99,529 1822.9,536.31 1816.58,540.17 1789.01,549 1687.38,581.55 1567.32,619.59 1507.95,638.38"/>
<polygon class="a" points="1506.89,635.04 1498.41,641.39 1509,641.72"/>
<path class="e" d="M2551.89,358.5C2621.03,366.9 2729.38,380.55 2827.45,395 2835.25,396.15 2843.58,397.44 2855.89,399.41"/>
<polygon class="a" points="2855.33,402.86 2865.76,401 2856.45,395.95"/>
<path class="e" d="M2488.44,358.72C2481.08,374.54 2463.27,407.97 2437.34,426 2432.3,429.51 2357.65,451.55 2310.82,465.18"/>
<polygon class="a" points="2309.85,461.82 2301.22,467.97 2311.8,468.54"/>
<path class="e" d="M2429.61,352.5C2208.95,361.47 1494.51,395.12 1278.6,462 1180.23,492.47 900.31,645.76 816.16,692.41"/>
<polygon class="a" points="814.47,689.35 807.42,697.26 817.86,695.47"/>
<path class="e" d="M1635.99,241.02C1658.72,251.54 1697.43,269.44 1718.74,279.31"/>
<polygon class="a" points="1717.27,282.49 1727.82,283.49 1720.2,276.13"/>
<path class="e" d="M1670.25,240.75C1713.5,244.25 1756.7,248.41 1800,251.25 1874.95,256.16 1950.02,259.38 2025,264 2100.02,268.63 2174.92,275.83 2250,279 2346.42,283.08 2443.34,279.39 2539.5,285.75 2594.59,289.39 2649.07,300.76 2703.75,309 2758.57,317.26 2812.88,330.45 2868,335.25 2933.38,340.95 2999.66,342.44 3065.25,340.5 3109.41,339.19 3153.15,329.23 3197.25,325.5 3229.9,322.73 3262.87,320.48 3295.5,321 3309.62,321.23 3324.82,322.47 3337.5,327.75 3348.82,332.47 3359.92,341.37 3367.5,351 3374.67,360.12 3379.01,372.54 3381.75,384 3384.26,394.54 3383.17,405.99 3383.25,417 3383.67,473.24 3385.4,529.65 3383.25,585.75 3382.4,607.9 3383.51,632.85 3374.25,651.75 3365.26,670.1 3347.51,688.72 3328.5,697.5 3288.51,715.97 3241.63,724.65 3197.25,733.5 3153.88,742.15 3109.3,744.99 3065.25,750 3030.87,753.91 2996.38,756.84 2961.95,760.26"/>
<polygon class="a" points="2961.61,756.78 2952,761.25 2962.3,763.74"/>
<path class="e" d="M1649.77,241.04C1660.29,243.11 1671.65,245.23 1682.36,247 1831.44,271.61 2306.07,238.21 2369.59,339 2377.09,351.31 2367.92,374.41 2358.75,392.11"/>
<polygon class="a" points="2355.68,390.43 2353.94,400.88 2361.82,393.8"/>
<path class="e" d="M1527,233.25C1454,237.75 1380.57,238.67 1308,246.75 1252.57,252.92 1195.99,260.57 1143,276 1116.99,283.57 1091.83,299.37 1071,315.75 1062.58,322.37 1056.27,334.18 1055.25,345 1051.02,389.68 1053.05,436.77 1055.25,482.25 1055.8,493.52 1057.95,505.66 1063.5,515.25 1072.7,531.16 1084.73,547.75 1099.5,558.75 1118.98,573.25 1142.97,583.56 1166.25,591.75 1196.97,602.56 1229.46,609.08 1261.5,615.75 1311.93,626.24 1362.94,634.07 1413.66,643.22"/>
<polygon class="a" points="1413.04,646.67 1423.5,645 1414.28,639.78"/>
<path class="e" d="M1526.25,238.5C1456.75,243.5 1387.05,246.57 1317.75,253.5 1254.55,259.82 1191.75,270.02 1128.75,278.25 1065.5,286.52 1002.21,294.49 939,303 875.96,311.49 812.8,319.21 750,329.25 676.8,340.96 603.78,354.14 531,368.25 480.03,378.14 429.31,389.48 378.75,401.25 353.06,407.23 327.17,413.14 302.25,421.5 287.67,426.39 273.31,433.07 260.25,441 252.31,445.82 244.63,452.39 239.25,459.75 235.13,465.39 232,472.85 231.75,480 229.5,544.6 231.64,610 231.75,675 231.79,697.67 232.06,720.33 232.21,743"/>
<polygon class="a" points="228.71,743.02 232.27,753 235.71,742.98"/>
<path class="e" d="M1825.13,241.02C1809.68,250.13 1784.88,264.76 1761.74,278.41"/>
<polygon class="a" points="1759.96,275.39 1753.13,283.49 1763.52,281.42"/>
<path class="e" d="M1758.75,241.5C1747.5,243 1736.25,244.53 1725,246 1651.75,255.53 1578.07,262.42 1505.25,274.5 1428.82,287.17 1351.91,300.76 1277.25,320.25 1250.41,327.26 1223.42,339.05 1200.75,354 1188.17,362.3 1177.87,376.66 1171.5,390 1167.37,398.66 1169.47,409.98 1169.25,420 1168.72,443.73 1167.95,467.6 1169.25,491.25 1169.95,504.1 1170.63,517.73 1175.25,529.5 1180.63,543.23 1188.89,557.27 1199.25,567.75 1211.14,579.77 1226.55,589.64 1242,597 1263.3,607.14 1286.53,614.2 1309.5,620.25 1343.77,629.27 1378.98,634.88 1413.71,642.19"/>
<polygon class="a" points="1412.99,645.61 1423.5,644.25 1414.44,638.76"/>
<path class="e" d="M1900.84,234.82C2053.7,239.9 2379.24,253.95 2445.83,283 2471.89,294.37 2478.56,319.03 2479.71,329.39"/>
<polygon class="a" points="2476.22,329.63 2480.42,339.36 2483.2,329.14"/>
<path class="e" d="M64.57,548.58C33.02,558.49 -7.27,577.11 7.32,605 47.66,682.17 145.14,729.16 197.86,749.82"/>
<polygon class="a" points="196.61,753.09 207.2,753.39 199.11,746.55"/>
<path class="e" d="M159.75,542.73C379,552.15 1100.73,583.17 1301.48,591.79"/>
<polygon class="a" points="1301.33,595.29 1311.47,592.22 1301.63,588.3"/>
<path class="e" d="M97.09,548.92C96.06,556.07 94.59,566.36 93.3,575.35"/>
<polygon class="a" points="89.84,574.85 91.88,585.25 96.77,575.85"/></g>
<g><rect x="608.75" y="4.5" width="113" height="41" fill="#bfbfbf" stroke="#000"/>
<text x="616.75" y="16.5" text-anchor="start">/root/ACloudViewer</text>
<text x="616.75" y="27.5" text-anchor="start">/libs/Reconstruction</text>
<text x="665.25" y="38.5" text-anchor="middle">/src/exe/image.cc</text>
<rect x="50" y="88" width="77" height="19" fill="#fff" stroke="#000"/>
<text x="88.5" y="100" text-anchor="middle">exe/image.h</text>
<rect x="1700" y="283.5" width="122" height="19" fill="#fff" stroke="#000"/>
<text x="1761" y="295.5" text-anchor="middle">base/reconstruction.h</text>
<rect x="542" y="216.5" width="116" height="30" fill="#fff" stroke="#000"/>
<text x="550" y="228.5" text-anchor="start">controllers/texturing</text>
<text x="600" y="239.5" text-anchor="middle">_controller.h</text>
<rect x="575" y="529.5" width="68" height="19" fill="#fff" stroke="#000"/>
<text x="609" y="541.5" text-anchor="middle">util/misc.h</text>
<rect x="686" y="222" width="110" height="19" fill="#fff" stroke="#000"/>
<text x="741" y="234" text-anchor="middle">base/undistortion.h</text>
<rect x="883.75" y="82.5" width="130" height="30" fill="#fff" stroke="#000"/>
<text x="891.75" y="94.5" text-anchor="start">controllers/incremental</text>
<text x="948.75" y="105.5" text-anchor="middle">_mapper.h</text>
<rect x="1602.25" y="155" width="148" height="19" fill="#fff" stroke="#000"/>
<text x="1676.25" y="167" text-anchor="middle">sfm/incremental_mapper.h</text>
<rect x="36.75" y="529.5" width="123" height="19" fill="#fff" stroke="#000"/>
<text x="98.25" y="541.5" text-anchor="middle">util/option_manager.h</text>
<rect x="2881.5" y="753.5" width="69" height="19" fill="#fff" stroke="#bfbfbf"/>
<text x="2916" y="765.5" text-anchor="middle">Eigen/Core</text>
<rect x="2312" y="401" width="86" height="19" fill="#fff" stroke="#bfbfbf"/>
<text x="2355" y="413" text-anchor="middle">unordered_set</text>
<rect x="3222.75" y="753.5" width="93" height="19" fill="#fff" stroke="#bfbfbf"/>
<text x="3269.25" y="765.5" text-anchor="middle">unordered_map</text>
<rect x="1928" y="753.5" width="47" height="19" fill="#fff" stroke="#bfbfbf"/>
<text x="1951.5" y="765.5" text-anchor="middle">vector</text>
<rect x="708.5" y="753.5" width="41" height="19" fill="#fff" stroke="#bfbfbf"/>
<text x="729" y="765.5" text-anchor="middle">tuple</text>
<rect x="2593.25" y="529.5" width="89" height="19" fill="#fff" stroke="#000"/>
<text x="2637.75" y="541.5" text-anchor="middle">base/camera.h</text>
<rect x="2156.75" y="585.5" width="71" height="19" fill="#fff" stroke="#000"/>
<text x="2192.25" y="597.5" text-anchor="middle">util/types.h</text>
<rect x="1423.75" y="641.5" width="94" height="19" fill="#fff" stroke="#000"/>
<text x="1470.75" y="653.5" text-anchor="middle">util/alignment.h</text>
<rect x="2852.5" y="401" width="97" height="19" fill="#fff" stroke="#000"/>
<text x="2901" y="413" text-anchor="middle">base/database.h</text>
<rect x="2227.25" y="468" width="83" height="19" fill="#fff" stroke="#000"/>
<text x="2268.75" y="480" text-anchor="middle">base/image.h</text>
<rect x="2018" y="529.5" width="89" height="19" fill="#fff" stroke="#000"/>
<text x="2062.5" y="541.5" text-anchor="middle">base/point2d.h</text>
<rect x="1655.75" y="468" width="89" height="19" fill="#fff" stroke="#000"/>
<text x="1700.25" y="480" text-anchor="middle">base/point3d.h</text>
<rect x="1694" y="529.5" width="77" height="19" fill="#fff" stroke="#000"/>
<text x="1732.5" y="541.5" text-anchor="middle">base/track.h</text>
<rect x="1808.75" y="339.5" width="152" height="19" fill="#fff" stroke="#000"/>
<text x="1884.75" y="351.5" text-anchor="middle">base/similarity_transform.h</text>
<rect x="1808.75" y="395.5" width="119" height="30" fill="#fff" stroke="#000"/>
<text x="1816.75" y="407.5" text-anchor="start">estimators/similarity</text>
<text x="1868.25" y="418.5" text-anchor="middle">_transform.h</text>
<rect x="1387.25" y="529.5" width="98" height="19" fill="#fff" stroke="#f00"/>
<text x="1436.25" y="541.5" text-anchor="middle">optim/loransac.h</text>
<rect x="1083.5" y="697.5" width="53" height="19" fill="#fff" stroke="#f00"/>
<text x="1110" y="709.5" text-anchor="middle">Eigen.h</text>
<rect x="1034.75" y="753.5" width="95" height="19" fill="#fff" stroke="#bfbfbf"/>
<text x="1082.25" y="765.5" text-anchor="middle">Eigen/Geometry</text>
<rect x="203.5" y="753.5" width="58" height="19" fill="#fff" stroke="#bfbfbf"/>
<text x="232.5" y="765.5" text-anchor="middle">memory</text>
<rect x="2967" y="468" width="48" height="19" fill="#fff" stroke="#bfbfbf"/>
<text x="2991" y="480" text-anchor="middle">mutex</text>
<rect x="3033.75" y="468" width="93" height="19" fill="#fff" stroke="#bfbfbf"/>
<text x="3080.25" y="480" text-anchor="middle">SQLite/sqlite3.h</text>
<rect x="2601.5" y="462.5" width="119" height="30" fill="#fff" stroke="#f00"/>
<text x="2609.5" y="474.5" text-anchor="start">estimators/two_view</text>
<text x="2661" y="485.5" text-anchor="middle">_geometry.h</text>
<rect x="2815.75" y="529.5" width="91" height="19" fill="#fff" stroke="#000"/>
<text x="2861.25" y="541.5" text-anchor="middle">feature/types.h</text>
<rect x="769.25" y="697.5" width="44" height="19" fill="#fff" stroke="#bfbfbf"/>
<text x="791.25" y="709.5" text-anchor="middle">string</text>
<rect x="2239" y="529.5" width="70" height="19" fill="#fff" stroke="#f00"/>
<text x="2274" y="541.5" text-anchor="middle">util/math.h</text>
<rect x="1311.5" y="585.5" width="80" height="19" fill="#fff" stroke="#f00"/>
<text x="1351.5" y="597.5" text-anchor="middle">util/logging.h</text>
<rect x="2397.5" y="585.5" width="140" height="19" fill="#fff" stroke="#000"/>
<text x="2467.5" y="597.5" text-anchor="middle">base/visibility_pyramid.h</text>
<rect x="1305" y="641.5" width="60" height="19" fill="#fff" stroke="#bfbfbf"/>
<text x="1335" y="653.5" text-anchor="middle">iostream</text>
<rect x="786.75" y="641.5" width="72" height="19" fill="#fff" stroke="#000"/>
<text x="822.75" y="653.5" text-anchor="middle">util/string.h</text>
<rect x="2368.25" y="468" width="101" height="19" fill="#fff" stroke="#f00"/>
<text x="2418.75" y="480" text-anchor="middle">base/projection.h</text>
<rect x="629.25" y="468" width="102" height="19" fill="#fff" stroke="#f00"/>
<text x="680.25" y="480" text-anchor="middle">mvs/workspace.h</text>
<rect x="779.5" y="283.5" width="91" height="19" fill="#fff" stroke="#f00"/>
<text x="825" y="295.5" text-anchor="middle">util/threading.h</text>
<rect x="719.5" y="585.5" width="79" height="19" fill="#fff" stroke="#f00"/>
<text x="759" y="597.5" text-anchor="middle">util/bitmap.h</text>
<rect x="512.5" y="585.5" width="55" height="19" fill="#fff" stroke="#bfbfbf"/>
<text x="540" y="597.5" text-anchor="middle">fstream</text>
<rect x="585.5" y="585.5" width="77" height="19" fill="#fff" stroke="#f00"/>
<text x="624" y="597.5" text-anchor="middle">util/endian.h</text>
<rect x="336.5" y="585.5" width="119" height="19" fill="#fff" stroke="#bfbfbf"/>
<text x="396" y="597.5" text-anchor="middle">boost/filesystem.hpp</text>
<rect x="1087.25" y="149.5" width="113" height="30" fill="#fff" stroke="#000"/>
<text x="1095.25" y="161.5" text-anchor="start">base/reconstruction</text>
<text x="1143.75" y="172.5" text-anchor="middle">_manager.h</text>
<rect x="2429.75" y="339.5" width="131" height="19" fill="#fff" stroke="#f00"/>
<text x="2495.25" y="351.5" text-anchor="middle">base/database_cache.h</text>
<rect x="1527.25" y="222" width="151" height="19" fill="#fff" stroke="#f00"/>
<text x="1602.75" y="234" text-anchor="middle">optim/bundle_adjustment.h</text>
<rect x="1733.75" y="222" width="167" height="19" fill="#fff" stroke="#000"/>
<text x="1817.25" y="234" text-anchor="middle">sfm/incremental_triangulator.h</text>
<rect x="15.75" y="585.5" width="150" height="19" fill="#fff" stroke="#bfbfbf"/>
<text x="90.75" y="597.5" text-anchor="middle">boost/program_options.hpp</text></g>
</svg></body></html>
